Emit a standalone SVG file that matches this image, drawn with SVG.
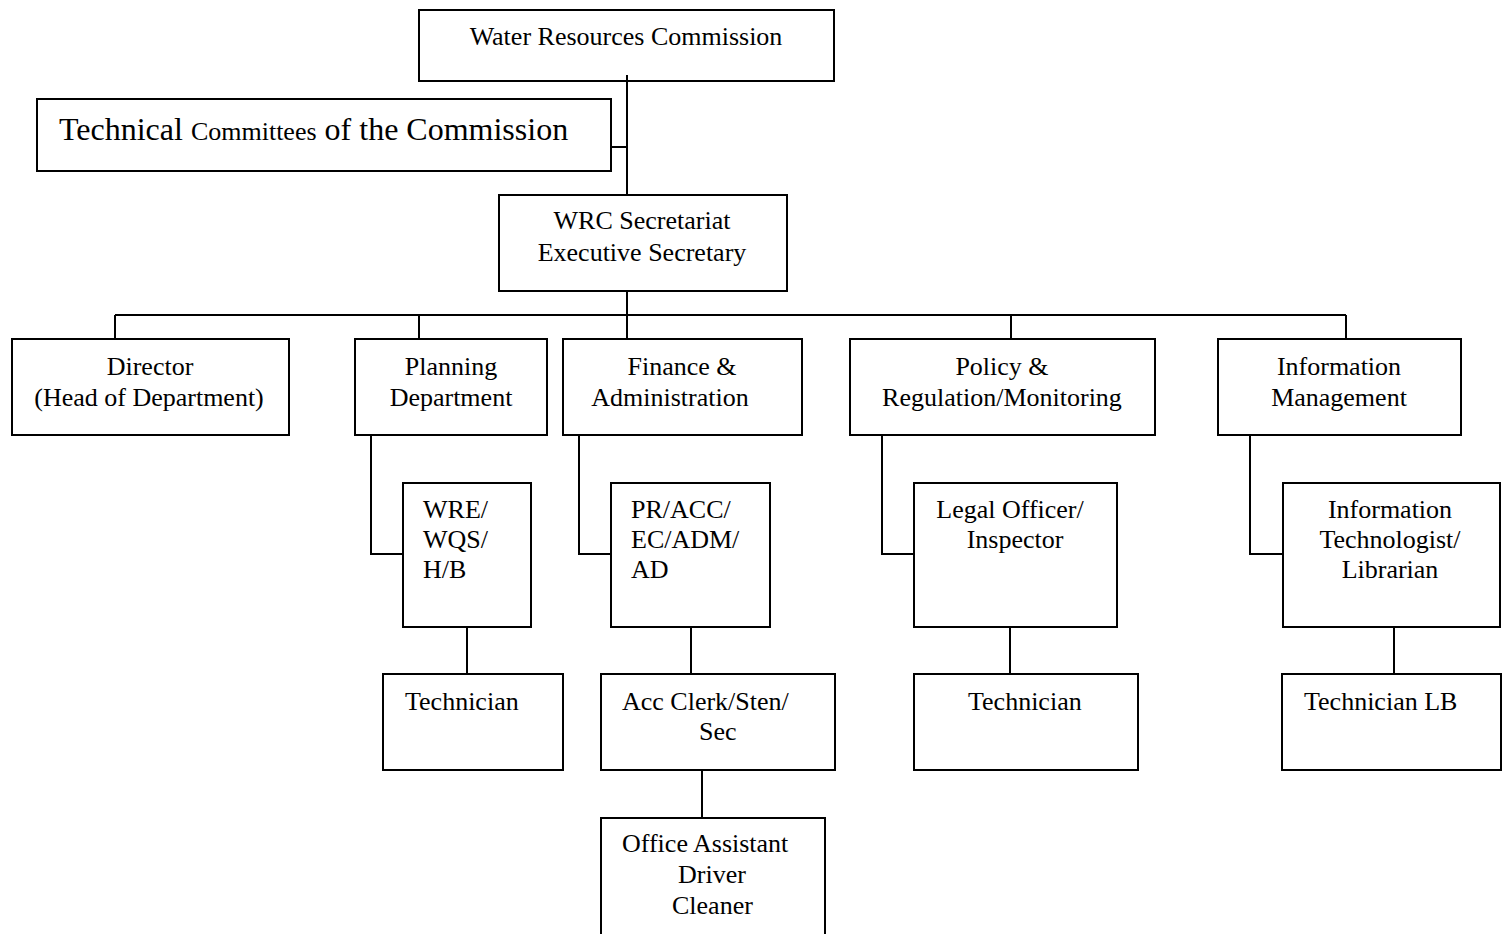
<svg xmlns="http://www.w3.org/2000/svg" width="1503" height="934" viewBox="0 0 1503 934">
<style>
.box{fill:#fff;stroke:#000;stroke-width:2}
.ln{fill:none;stroke:#000;stroke-width:2}
text{font-family:"Liberation Serif","Times New Roman",serif;font-size:26px;fill:#000}
.c{text-anchor:middle}
</style>
<rect width="1503" height="934" fill="#fff"/>
<g id="n-wrc"><rect class="box" x="419" y="10" width="415" height="71"/><text class="c" x="626" y="45">Water Resources Commission</text></g>
<g id="n-tech"><rect class="box" x="37" y="99" width="574" height="72"/><text x="59" y="140" style="font-size:32px">Technical <tspan style="font-size:26px">Committees</tspan> of the Commission</text></g>
<g id="n-sec"><rect class="box" x="499" y="195" width="288" height="96"/><text class="c" x="642" y="229">WRC Secretariat</text><text class="c" x="642" y="261">Executive Secretary</text></g>
<g id="n-dir"><rect class="box" x="12" y="339" width="277" height="96"/><text class="c" x="150" y="375">Director</text><text class="c" x="149" y="406">(Head of Department)</text></g>
<g id="n-plan"><rect class="box" x="355" y="339" width="192" height="96"/><text class="c" x="451" y="375">Planning</text><text class="c" x="451" y="406">Department</text></g>
<g id="n-fin"><rect class="box" x="563" y="339" width="239" height="96"/><text class="c" x="682" y="375">Finance &amp;</text><text class="c" x="670" y="406">Administration</text></g>
<g id="n-pol"><rect class="box" x="850" y="339" width="305" height="96"/><text class="c" x="1002" y="375">Policy &amp;</text><text class="c" x="1002" y="406">Regulation/Monitoring</text></g>
<g id="n-info"><rect class="box" x="1218" y="339" width="243" height="96"/><text class="c" x="1339" y="375">Information</text><text class="c" x="1339" y="406">Management</text></g>
<g id="n-wre"><rect class="box" x="403" y="483" width="128" height="144"/><text x="423" y="518">WRE/</text><text x="423" y="548">WQS/</text><text x="423" y="578">H/B</text></g>
<g id="n-pr"><rect class="box" x="611" y="483" width="159" height="144"/><text x="631" y="518">PR/ACC/</text><text x="631" y="548">EC/ADM/</text><text x="631" y="578">AD</text></g>
<g id="n-legal"><rect class="box" x="914" y="483" width="203" height="144"/><text class="c" x="1010" y="518">Legal Officer/</text><text class="c" x="1015" y="548">Inspector</text></g>
<g id="n-it"><rect class="box" x="1283" y="483" width="217" height="144"/><text class="c" x="1390" y="518">Information</text><text class="c" x="1390" y="548">Technologist/</text><text class="c" x="1390" y="578">Librarian</text></g>
<g id="n-tech1"><rect class="box" x="383" y="674" width="180" height="96"/><text x="405" y="710">Technician</text></g>
<g id="n-acc"><rect class="box" x="601" y="674" width="234" height="96"/><text x="622" y="710">Acc Clerk/Sten/</text><text x="699" y="740">Sec</text></g>
<g id="n-tech2"><rect class="box" x="914" y="674" width="224" height="96"/><text x="968" y="710">Technician</text></g>
<g id="n-techlb"><rect class="box" x="1282" y="674" width="219" height="96"/><text x="1304" y="710">Technician LB</text></g>
<g id="n-office"><rect class="box" x="601" y="818" width="224" height="130"/><text x="622" y="852">Office Assistant</text><text x="678" y="883">Driver</text><text x="672" y="914">Cleaner</text></g>
<g id="connectors">
<path class="ln" d="M627 75V195M611 147H627M627 291V339M115 315H1346M115 315V339M419 315V339M1011 315V339M1346 315V339"/>
<path class="ln" d="M371 435V554H403M579 435V554H611M882 435V554H914M1250 435V554H1283"/>
<path class="ln" d="M467 627V674M691 627V674M1010 627V674M1394 627V674M702 770V818"/>
</g>
</svg>
